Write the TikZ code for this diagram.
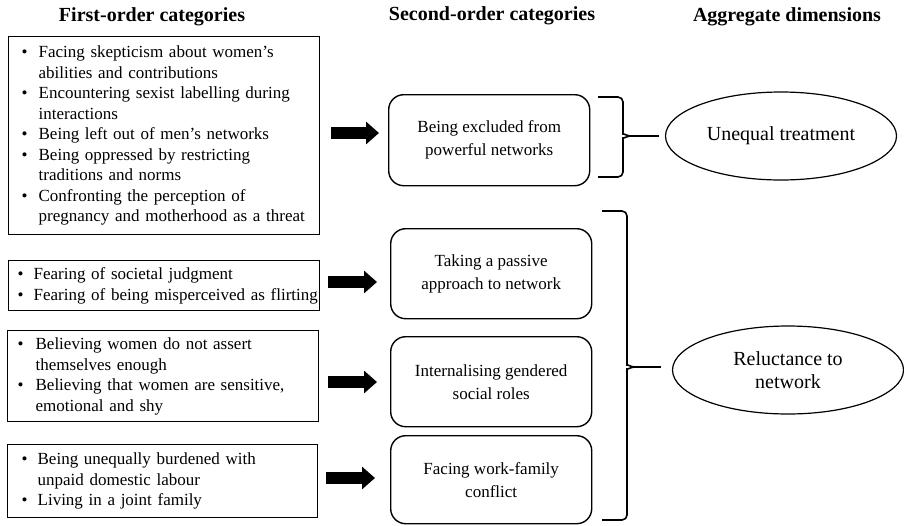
\documentclass[tikz,border=0pt]{standalone}
\usepackage{fontspec}
\setmainfont{Liberation Serif}
\usetikzlibrary{shapes.geometric,arrows.meta}
\newcommand{\bl}{\textbullet}
\begin{document}
\begin{tikzpicture}[x=1pt,y=-1pt,
  every node/.style={font=\fontsize{17}{20.5}\selectfont},
  ttl/.style={font=\fontsize{20}{22}\selectfont\bfseries},
  catbox/.style={draw, line width=1.4pt, anchor=north west, align=left, inner ysep=0pt},
  rbox/.style={draw, line width=1.4pt, rounded corners=15pt, minimum width=201pt, minimum height=90pt, align=center, anchor=north west, font=\fontsize{17}{23}\selectfont},
  dimell/.style={draw, line width=1.2pt, ellipse, minimum width=231pt, minimum height=88pt, align=center, font=\fontsize{20}{23}\selectfont},
  fat/.style={line width=12pt, -{Triangle[length=13pt,width=22pt]}},
  brace/.style={line width=1.6pt, rounded corners=5pt}]
\useasboundingbox (0,0) rectangle (904,525);
\fill[white] (0,0) rectangle (904,525);

\node[ttl] (t1) at (152,17) {First-order categories};
\node[ttl] (t2) at (492,16) {Second-order categories};
\node[ttl] (t3) at (787,17) {Aggregate dimensions};

\node[catbox, inner xsep=13pt, text width=285pt, minimum width=311pt, minimum height=198pt] (b1) at (8,36) {%
\begin{tabular}{@{}l@{\hspace{11pt}}l@{}}
\bl & Facing skepticism about women’s\\
 & abilities and contributions\\
\bl & Encountering sexist labelling during\\
 & interactions\\
\bl & Being left out of men’s networks\\
\bl & Being oppressed by restricting\\
 & traditions and norms\\
\bl & Confronting the perception of\\
 & pregnancy and motherhood as a threat
\end{tabular}};

\node[catbox, inner xsep=9pt, text width=293pt, minimum width=311pt, minimum height=50pt] (b2) at (8,260) {%
\begin{tabular}{@{}l@{\hspace{10pt}}l@{}}
\bl & Fearing of societal judgment\\
\bl & Fearing of being misperceived as flirting
\end{tabular}};

\node[catbox, inner xsep=10pt, text width=291pt, minimum width=311pt, minimum height=91pt] (b3) at (7,330) {%
\begin{tabular}{@{}l@{\hspace{12pt}}l@{}}
\bl & Believing women do not assert\\
 & themselves enough\\
\bl & Believing that women are sensitive,\\
 & emotional and shy
\end{tabular}};

\node[catbox, inner xsep=14pt, text width=282pt, minimum width=310pt, minimum height=73pt] (b4) at (7,444) {%
\begin{tabular}{@{}l@{\hspace{10pt}}l@{}}
\bl & Being unequally burdened with\\
 & unpaid domestic labour\\
\bl & Living in a joint family
\end{tabular}};

\node[rbox, minimum height=91pt] (r1) at (388,94) {Being excluded from\\powerful networks};
\node[rbox] (r2) at (390,228) {Taking a passive\\approach to network};
\node[rbox] (r3) at (390,336) {Internalising gendered\\social roles};
\node[rbox, minimum height=88pt] (r4) at (390,435) {Facing work-family\\conflict};

\draw[fat] ([xshift=11pt]b1.east |- 0,133) -- ([xshift=-9pt]r1.west |- 0,133);
\draw[fat] ([xshift=8pt]b2.east |- 0,282) -- ([xshift=-13pt]r2.west |- 0,282);
\draw[fat] ([xshift=9pt]b3.east |- 0,382) -- ([xshift=-13pt]r3.west |- 0,382);
\draw[fat] ([xshift=8pt]b4.east |- 0,478) -- ([xshift=-15pt]r4.west |- 0,478);

\node[dimell] (e1) at (781,136) {Unequal treatment};
\node[dimell] (e2) at (788,370) {Reluctance to\\network};

\draw[brace] (598,97) -- (623,97) -- (623,129) to[out=-90,in=180] (631,136);
\draw[brace] (598,177) -- (623,177) -- (623,143) to[out=90,in=180] (631,136);
\draw[line width=1.6pt] (631,136) -- ([xshift=-6pt]e1.west);
\draw[brace] (602,211) -- (627,211) -- (627,360) to[out=-90,in=180] (635,367);
\draw[brace] (602,520) -- (627,520) -- (627,374) to[out=90,in=180] (635,367);
\draw[line width=1.6pt] (635,367) -- ([xshift=-11pt]e2.west |- 0,367);
\end{tikzpicture}
\end{document}
